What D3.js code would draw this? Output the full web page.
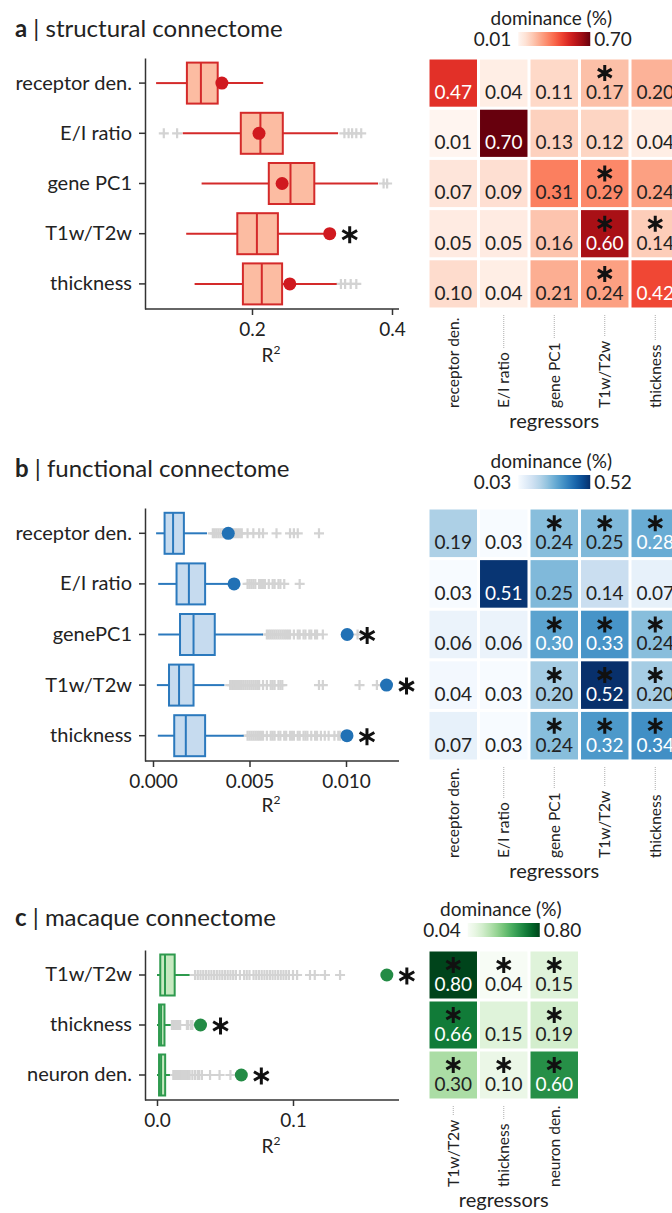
<!DOCTYPE html>
<html>
<head>
<meta charset="utf-8">
<script src="https://cdn.jsdelivr.net/npm/d3@7"></script>
<style>
  body { margin: 0; background: #fff; }
  text { font-family: Lato, "Open Sans", sans-serif; fill: #222; }
</style>
</head>
<body>
<svg id="fig" width="672" height="1213"></svg>
<script>
// ---------- data ----------
// panel a: structural connectome
const aTargets = ["receptor den.", "E/I ratio", "gene PC1", "T1w/T2w", "thickness"];
const aWhiskLo = [0.063, 0.101, 0.128, 0.106, 0.118];
const aQ1      = [0.107, 0.184, 0.224, 0.179, 0.187];
const aMedian  = [0.127, 0.212, 0.255, 0.207, 0.214];
const aQ3      = [0.151, 0.244, 0.289, 0.237, 0.243];
const aWhiskHi = [0.216, 0.323, 0.380, 0.304, 0.321];
const aEmpirical = [0.157, 0.210, 0.243, 0.311, 0.254];
const aSignif  = [0, 0, 0, 1, 0];
const aFliers  = [
  [],
  [0.074, 0.093, 0.332, 0.338, 0.343, 0.349, 0.356],
  [0.388, 0.393],
  [],
  [0.327, 0.333, 0.341, 0.349]
];
const aRegressors = ["receptor den.", "E/I ratio", "gene PC1", "T1w/T2w", "thickness"];
const aDominance = [
  [0.47, 0.04, 0.11, 0.17, 0.20],
  [0.01, 0.70, 0.13, 0.12, 0.04],
  [0.07, 0.09, 0.31, 0.29, 0.24],
  [0.05, 0.05, 0.16, 0.60, 0.14],
  [0.10, 0.04, 0.21, 0.24, 0.42]
];
const aDomSignif = [
  [0, 0, 0, 1, 0],
  [0, 0, 0, 0, 0],
  [0, 0, 0, 1, 0],
  [0, 0, 0, 1, 1],
  [0, 0, 0, 1, 0]
];
const aTicks = [0.2, 0.4];

// panel b: functional connectome
const bTargets = ["receptor den.", "E/I ratio", "genePC1", "T1w/T2w", "thickness"];
const bWhiskLo = [0.00016, 0.00027, 0.00027, 0.00020, 0.00025];
const bQ1      = [0.00060, 0.00122, 0.00140, 0.00083, 0.00110];
const bMedian  = [0.00104, 0.00186, 0.00210, 0.00135, 0.00170];
const bQ3      = [0.00160, 0.00270, 0.00320, 0.00210, 0.00270];
const bWhiskHi = [0.00280, 0.00420, 0.00570, 0.00370, 0.00470];
const bEmpirical = [0.0039, 0.0042, 0.01006, 0.0121, 0.01005];
const bSignif  = [0, 0, 1, 1, 1];
const bFliers  = [
  [0.0031, 0.0032, 0.0033, 0.0034, 0.0035, 0.0036, 0.0037, 0.0038, 0.0039, 0.0040,
   0.0041, 0.0042, 0.0043, 0.0044, 0.0045, 0.0046, 0.0049, 0.0052, 0.0055, 0.0057,
   0.0064, 0.0071, 0.0073, 0.0075, 0.0086],
  [0.0049, 0.0050, 0.0051, 0.0052, 0.0053, 0.0055, 0.0056, 0.0057, 0.0058, 0.0060,
   0.0062, 0.0063, 0.0065, 0.0066, 0.0068, 0.0076],
  [0.0059, 0.0060, 0.0061, 0.0062, 0.0063, 0.0064, 0.0065, 0.0066, 0.0067, 0.0068,
   0.0069, 0.0070, 0.0071, 0.0073, 0.0075, 0.0076, 0.0078, 0.0079, 0.0081, 0.0082,
   0.0084, 0.0085, 0.0088, 0.0106],
  [0.0040, 0.0041, 0.0042, 0.0043, 0.0044, 0.0045, 0.0046, 0.0047, 0.0048, 0.0049,
   0.0050, 0.0051, 0.0052, 0.0053, 0.0054, 0.0055, 0.0057, 0.0059, 0.0061, 0.0062,
   0.0063, 0.0065, 0.0066, 0.0067, 0.0086, 0.0088, 0.0107, 0.0116],
  [0.0049, 0.0050, 0.0051, 0.0052, 0.0053, 0.0054, 0.0055, 0.0056, 0.0057, 0.0059,
   0.0061, 0.0062, 0.0063, 0.0065, 0.0066, 0.0068, 0.0069, 0.0071, 0.0072, 0.0073,
   0.0075, 0.0076, 0.0078, 0.0079, 0.0080, 0.0082, 0.0084, 0.0085, 0.0087, 0.0089,
   0.0091, 0.0094, 0.0096, 0.0097]
];
const bRegressors = ["receptor den.", "E/I ratio", "gene PC1", "T1w/T2w", "thickness"];
const bDominance = [
  [0.19, 0.03, 0.24, 0.25, 0.28],
  [0.03, 0.51, 0.25, 0.14, 0.07],
  [0.06, 0.06, 0.30, 0.33, 0.24],
  [0.04, 0.03, 0.20, 0.52, 0.20],
  [0.07, 0.03, 0.24, 0.32, 0.34]
];
const bDomSignif = [
  [0, 0, 1, 1, 1],
  [0, 0, 0, 0, 0],
  [0, 0, 1, 1, 1],
  [0, 0, 1, 1, 1],
  [0, 0, 1, 1, 1]
];
const bTicks = [0.000, 0.005, 0.010];

// panel c: macaque connectome
const cTargets = ["T1w/T2w", "thickness", "neuron den."];
const cWhiskLo = [0.000, 0.000, 0.000];
const cQ1      = [0.0024, 0.0015, 0.0015];
const cMedian  = [0.0059, 0.0030, 0.0030];
const cQ3      = [0.0130, 0.0055, 0.0060];
const cWhiskHi = [0.0240, 0.0100, 0.0095];
const cEmpirical = [0.169, 0.032, 0.062];
const cSignif  = [1, 1, 1];
const cFliers  = [
  [0.028, 0.030, 0.032, 0.034, 0.036, 0.038, 0.040, 0.042, 0.044, 0.046,
   0.048, 0.050, 0.052, 0.054, 0.056, 0.058, 0.061, 0.064, 0.066, 0.068,
   0.071, 0.073, 0.075, 0.077, 0.079, 0.081, 0.083, 0.085, 0.087, 0.089,
   0.091, 0.093, 0.095, 0.097, 0.100, 0.103, 0.1125, 0.116, 0.1235, 0.1346],
  [0.011, 0.012, 0.013, 0.014, 0.015, 0.016, 0.017, 0.022, 0.023, 0.025, 0.026],
  [0.012, 0.013, 0.014, 0.015, 0.016, 0.017, 0.018, 0.019, 0.020, 0.021,
   0.022, 0.023, 0.024, 0.026, 0.028, 0.030, 0.031, 0.033, 0.039, 0.046, 0.054]
];
const cRegressors = ["T1w/T2w", "thickness", "neuron den."];
const cDominance = [
  [0.80, 0.04, 0.15],
  [0.66, 0.15, 0.19],
  [0.30, 0.10, 0.60]
];
const cDomSignif = [
  [1, 1, 1],
  [1, 0, 1],
  [1, 1, 1]
];
const cTicks = [0.0, 0.1];

// ---------- drawing ----------
var svg = d3.select("#fig");
svg.append("rect").attr("width", 672).attr("height", 1213).attr("fill", "#fff");
var defs = svg.append("defs");

function starPath(r) {
    const t = r / 2, u = t * Math.sqrt(3);
    return `M0,${r}L0,${-r}M${-u},${-t}L${u},${t}M${-u},${t}L${u},${-t}`;
}

function drawTitle(letter, name, y) {
    var t = svg.append("text").attr("x", 15).attr("y", y).style("font-size", "24px");
    t.append("tspan").style("font-weight", "bold").text(letter);
    t.append("tspan").text(" | " + name);
}

function drawBoxPanel(p) {
    var g = svg.append("g");
    var y = d3.scaleBand().domain(p.targets).range([p.top, p.bottom]);
    var x = d3.scaleLinear().domain(p.xDomain).range(p.xRange);

    // x axis
    var xAxis = g.append("g")
        .attr("transform", `translate(0,${p.bottom})`)
        .call(d3.axisBottom(x).tickValues(p.ticks).tickFormat(p.fmt).tickSize(6));
    xAxis.select(".domain").remove();
    xAxis.selectAll("line").attr("stroke", "#333").attr("stroke-width", 1.5);
    xAxis.selectAll("text").attr("y", 14).style("font-size", "19px").style("font-family", "Lato").attr("fill", "#222");
    g.append("line")
        .attr("x1", 145).attr("x2", 399)
        .attr("y1", p.bottom).attr("y2", p.bottom)
        .attr("stroke", "#333").attr("stroke-width", 1.5);

    // y axis
    var yAxis = g.append("g")
        .attr("transform", "translate(145,0)")
        .call(d3.axisLeft(y).tickSize(6).tickSizeOuter(0).tickPadding(7));
    yAxis.select(".domain").attr("stroke", "#333").attr("stroke-width", 1.5);
    yAxis.selectAll("line").attr("stroke", "#333").attr("stroke-width", 1.5);
    yAxis.selectAll("text").style("font-size", "20px").style("font-family", "Lato").attr("fill", "#222");

    // R^2 label
    var rl = g.append("text")
        .attr("x", 271).attr("y", p.bottom + p.rOffset)
        .attr("text-anchor", "middle").style("font-size", "19px");
    rl.append("tspan").text("R");
    rl.append("tspan").attr("dy", -8).style("font-size", "12px").text("2");

    p.targets.forEach(function(t, i) {
        var cy = y(t) + y.bandwidth() / 2;
        var row = g.append("g");

        // outliers of the null distribution
        row.selectAll(".flier")
            .data(p.fliers[i])
            .enter().append("path")
            .attr("class", "flier")
            .attr("transform", d => `translate(${x(d)},${cy})`)
            .attr("d", "M-5,0H5M0,-5V5")
            .attr("stroke", "#d3d3d3")
            .attr("stroke-width", 2.2)
            .attr("fill", "none");

        // whiskers
        row.append("line")
            .attr("x1", x(p.whiskLo[i])).attr("x2", x(p.q1[i]))
            .attr("y1", cy).attr("y2", cy)
            .attr("stroke", p.stroke).attr("stroke-width", 2);
        row.append("line")
            .attr("x1", x(p.q3[i])).attr("x2", x(p.whiskHi[i]))
            .attr("y1", cy).attr("y2", cy)
            .attr("stroke", p.stroke).attr("stroke-width", 2);

        // box
        row.append("rect")
            .attr("x", x(p.q1[i]))
            .attr("y", cy - 20.5)
            .attr("width", x(p.q3[i]) - x(p.q1[i]))
            .attr("height", 41)
            .attr("fill", p.fill)
            .attr("stroke", p.stroke)
            .attr("stroke-width", 2);
        row.append("line")
            .attr("x1", x(p.median[i])).attr("x2", x(p.median[i]))
            .attr("y1", cy - 20.5).attr("y2", cy + 20.5)
            .attr("stroke", p.stroke).attr("stroke-width", 2);

        // empirical value
        row.append("circle")
            .attr("cx", x(p.empirical[i])).attr("cy", cy)
            .attr("r", 6.5)
            .attr("fill", p.dot);

        if (p.signif[i]) {
            row.append("path")
                .attr("transform", `translate(${x(p.empirical[i]) + 20},${cy + 1})`)
                .attr("d", starPath(8.5))
                .attr("stroke", "#111")
                .attr("stroke-width", 3)
                .attr("fill", "none");
        }
    });
}

function drawHeatmap(p) {
    var g = svg.append("g");
    var n = p.regressors.length;
    var x = d3.scaleBand().domain(p.regressors).range([428, 428 + 50.5 * n])
        .paddingInner(0.06).paddingOuter(0.03);
    var y = d3.scaleBand().domain(p.targets).range([p.top, p.bottom])
        .paddingInner(0.06).paddingOuter(0.03);
    var color = d3.scaleSequential(p.interp).domain([p.vmin, p.vmax]);

    var cells = [];
    p.targets.forEach(function(t, i) {
        p.regressors.forEach(function(r, j) {
            cells.push({t: t, r: r, v: p.values[i][j], s: p.signif[i][j]});
        });
    });

    var cell = g.selectAll(".cell")
        .data(cells)
        .enter().append("g")
        .attr("class", "cell")
        .attr("transform", d => `translate(${x(d.r)},${y(d.t)})`);
    cell.append("rect")
        .attr("width", x.bandwidth())
        .attr("height", y.bandwidth())
        .attr("fill", d => color(d.v));
    cell.append("text")
        .attr("x", x.bandwidth() / 2)
        .attr("y", y.bandwidth() / 2 + 16)
        .attr("text-anchor", "middle")
        .style("font-size", "19px")
        .style("fill", d => (d.v - p.vmin) / (p.vmax - p.vmin) > 0.5 ? "#fff" : "#222")
        .text(d => d.v.toFixed(2));
    cell.filter(d => d.s).append("path")
        .attr("transform", `translate(${x.bandwidth() / 2},${y.bandwidth() / 2 - 10})`)
        .attr("d", starPath(8))
        .attr("stroke", "#111")
        .attr("stroke-width", 3)
        .attr("fill", "none");

    // colorbar
    var left = 428, right = 428 + 50.5 * n;
    var mid = (left + right) / 2;
    var gid = "grad-" + p.name;
    var grad = defs.append("linearGradient").attr("id", gid);
    d3.range(0, 1.0001, 0.1).forEach(function(f) {
        grad.append("stop").attr("offset", f).attr("stop-color", p.interp(f));
    });
    g.append("rect")
        .attr("x", mid - 36).attr("y", p.cbarY)
        .attr("width", 72).attr("height", 14)
        .attr("fill", `url(#${gid})`);
    g.append("text")
        .attr("x", mid - 3).attr("y", p.cbarY - 7)
        .attr("text-anchor", "middle").style("font-size", "19px")
        .text("dominance (%)");
    g.append("text")
        .attr("x", mid - 43).attr("y", p.cbarY + 14)
        .attr("text-anchor", "end").style("font-size", "19px")
        .text(p.vmin.toFixed(2));
    g.append("text")
        .attr("x", mid + 40).attr("y", p.cbarY + 14)
        .attr("text-anchor", "start").style("font-size", "19px")
        .text(p.vmax.toFixed(2));

    // column labels with dotted leaders
    p.regressors.forEach(function(r) {
        var cx = x(r) + x.bandwidth() / 2;
        var lab = g.append("text")
            .attr("transform", `translate(${cx},${p.labelBottom}) rotate(-90)`)
            .attr("dy", "0.35em")
            .style("font-size", "15.5px")
            .text(r);
        var len = lab.node().getComputedTextLength();
        var top = p.bottom + 6;
        var end = p.labelBottom - len - 4;
        if (end - top > 3) {
            g.append("line")
                .attr("x1", cx).attr("x2", cx)
                .attr("y1", top).attr("y2", end)
                .attr("stroke", "#999").attr("stroke-width", 0.8)
                .attr("stroke-dasharray", "1,1");
        }
    });
    g.append("text")
        .attr("x", mid).attr("y", p.labelBottom + 20)
        .attr("text-anchor", "middle").style("font-size", "20px")
        .text("regressors");
}

// panel a
drawTitle("a", "structural connectome", 37);
drawBoxPanel({
    targets: aTargets, whiskLo: aWhiskLo, q1: aQ1, median: aMedian, q3: aQ3,
    whiskHi: aWhiskHi, empirical: aEmpirical, signif: aSignif, fliers: aFliers,
    top: 58, bottom: 309, xDomain: [0, 0.4], xRange: [112, 392],
    ticks: aTicks, fmt: d3.format(".1f"), rOffset: 53,
    stroke: "#d42a2a", fill: "#fcbca2", dot: "#d0191f"
});
drawHeatmap({
    name: "a", targets: aTargets, regressors: aRegressors, values: aDominance,
    signif: aDomSignif, top: 58, bottom: 309, vmin: 0.01, vmax: 0.70,
    interp: d3.interpolateReds, cbarY: 32, labelBottom: 408
});

// panel b
drawTitle("b", "functional connectome", 477);
drawBoxPanel({
    targets: bTargets, whiskLo: bWhiskLo, q1: bQ1, median: bMedian, q3: bQ3,
    whiskHi: bWhiskHi, empirical: bEmpirical, signif: bSignif, fliers: bFliers,
    top: 508, bottom: 761, xDomain: [0, 0.01], xRange: [153, 346],
    ticks: bTicks, fmt: d3.format(".3f"), rOffset: 51,
    stroke: "#2b79bd", fill: "#c6dbef", dot: "#2171b5"
});
drawHeatmap({
    name: "b", targets: bTargets, regressors: bRegressors, values: bDominance,
    signif: bDomSignif, top: 508, bottom: 761, vmin: 0.03, vmax: 0.52,
    interp: d3.interpolateBlues, cbarY: 475, labelBottom: 858
});

// panel c
drawTitle("c", "macaque connectome", 926);
drawBoxPanel({
    targets: cTargets, whiskLo: cWhiskLo, q1: cQ1, median: cMedian, q3: cQ3,
    whiskHi: cWhiskHi, empirical: cEmpirical, signif: cSignif, fliers: cFliers,
    top: 950, bottom: 1100, xDomain: [0, 0.1], xRange: [157, 293],
    ticks: cTicks, fmt: d3.format(".1f"), rOffset: 53,
    stroke: "#2e9a4e", fill: "#c7e9c0", dot: "#238b45"
});
drawHeatmap({
    name: "c", targets: cTargets, regressors: cRegressors, values: cDominance,
    signif: cDomSignif, top: 950, bottom: 1100, vmin: 0.04, vmax: 0.80,
    interp: d3.interpolateGreens, cbarY: 923, labelBottom: 1187
});
</script>
</body>
</html>
